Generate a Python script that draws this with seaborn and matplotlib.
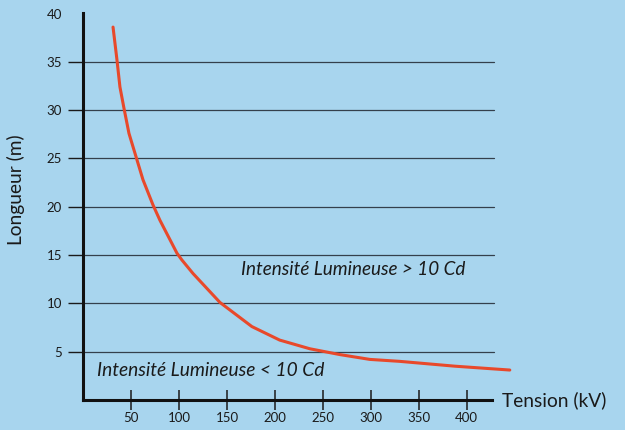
import matplotlib
matplotlib.use('Agg')
import matplotlib.pyplot as plt
import pandas as pd
import seaborn as sns

# values
tension_kv = [31.3, 35.4, 38.5, 42.7, 47.9, 55.2, 62.5, 72.9, 80.2, 97.9, 103, 114.6, 142.7,
              176, 205, 236.5, 267.7, 299, 330, 387.5, 444.8]
longueur_m = [38.6, 35.2, 32.4, 30.2, 27.6, 25.2, 22.8, 20.2, 18.6, 15.2, 14.5, 13.1, 10.1,
              7.6, 6.2, 5.3, 4.7, 4.2, 4.0, 3.5, 3.1]

x_ticks = [50, 100, 150, 200, 250, 300, 350, 400]
y_ticks = [5, 10, 15, 20, 25, 30, 35, 40]
grid_levels = [5, 10, 15, 20, 25, 30, 35]

bg = '#a8d5ee'
ink = '#1a1a1a'
sns.set_style('ticks')
plt.rcParams['font.family'] = ['Lato', 'DejaVu Sans']

df = pd.DataFrame({'Tension': tension_kv, 'Longueur': longueur_m})

fig = plt.figure(figsize=(6.25, 4.3), dpi=100, facecolor=bg)
ax = fig.add_axes([0.1328, 0.0698, 0.654, 0.90])
ax.set_facecolor(bg)

for lvl in grid_levels:
    ax.axhline(lvl, xmin=0, xmax=1.005, color='#34404c', lw=0.9, zorder=1, clip_on=False)

sns.lineplot(data=df, x='Tension', y='Longueur', ax=ax, color='#e8492b', lw=2.2, zorder=3)
for line in ax.lines:
    line.set_clip_on(False)
    line.set_solid_joinstyle('round')

ax.set_xlim(0, 426)
ax.set_ylim(0, 40.06)
ax.set_xticks(x_ticks)
ax.set_yticks(y_ticks)
ax.tick_params(axis='x', direction='inout', length=14, width=1.1, colors=ink, labelsize=9.5, pad=2)
ax.tick_params(axis='y', direction='out', length=11, width=1.0, colors=ink, labelsize=9.5, pad=4)
ax.yaxis.get_major_ticks()[-1].tick1line.set_visible(False)

for s in ['top', 'right']:
    ax.spines[s].set_visible(False)
for s in ['left', 'bottom']:
    ax.spines[s].set_linewidth(2.2)
    ax.spines[s].set_color('#111111')

ax.set_xlabel('')
ax.set_ylabel('Longueur (m)', fontsize=13.8, color=ink)
ax.yaxis.set_label_coords(-0.142, 0.543)
ax.annotate('Tension (kV)', xy=(1.025, 0), xycoords='axes fraction', va='center', ha='left',
            fontsize=13.8, color=ink, annotation_clip=False)

ax.text(165, 13.5, 'Intensité Lumineuse > 10 Cd', style='italic', fontsize=13.6, color=ink, va='center')
ax.text(14.6, 3.1, 'Intensité Lumineuse < 10 Cd', style='italic', fontsize=13.8, color=ink, va='center')

fig.savefig('out.png', dpi=100, facecolor=bg)
